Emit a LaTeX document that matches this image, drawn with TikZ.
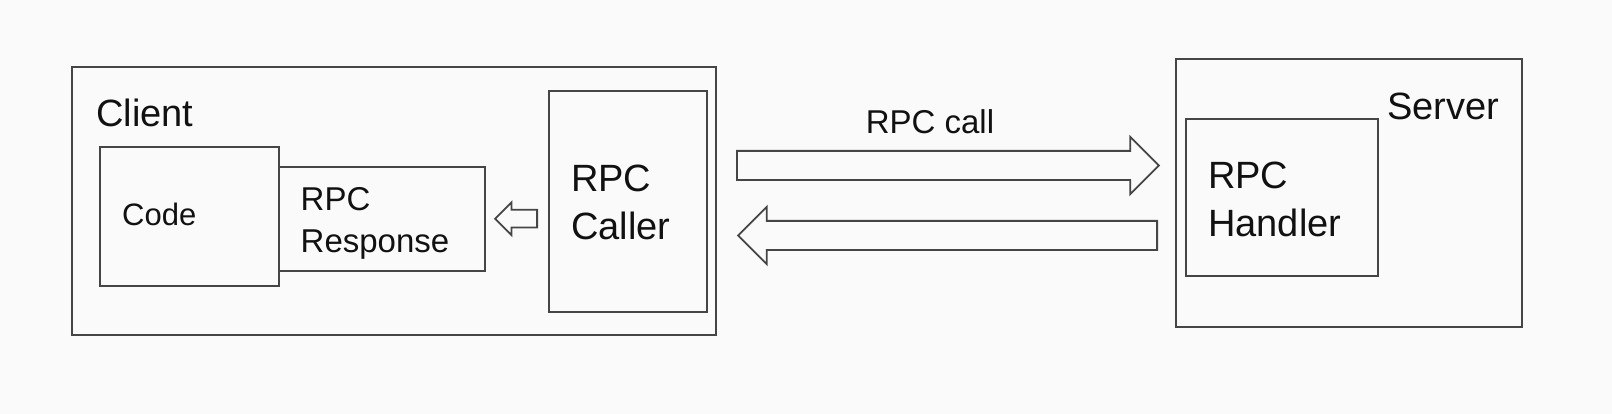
\documentclass[tikz,border=0pt]{standalone}
\usepackage{fontspec}
\setmainfont{Liberation Sans}
\usetikzlibrary{shapes.arrows}
\definecolor{bg}{HTML}{FAFAFA}
\definecolor{ln}{HTML}{454545}
\definecolor{tx}{HTML}{111111}
\tikzset{
  box/.style={draw=ln, line width=2pt, rectangle, inner sep=0pt, fill=bg},
  bigtext/.style={font=\fontsize{38}{48}\selectfont, text=tx, inner sep=0pt, align=left},
  midtext/.style={font=\fontsize{33}{42}\selectfont, text=tx, inner sep=0pt, align=left},
  smalltext/.style={font=\fontsize{31}{38}\selectfont, text=tx, inner sep=0pt},
  blockarrow/.style={single arrow, draw=ln, line width=1.8pt, fill=bg,
    single arrow tip angle=90, single arrow head indent=0pt,
    inner xsep=0pt, minimum width=0pt},
}
\begin{document}
\begin{tikzpicture}[x=1pt,y=-1pt]
\fill[bg] (0,0) rectangle (1612,414);
\useasboundingbox (0,0) rectangle (1612,414);
% Client side
\node[box, minimum width=644pt, minimum height=268pt] (client) at (394,201) {};
\node[bigtext, anchor=base west] (clientlbl) at (96,126.7) {Client};
\node[box, minimum width=178.6pt, minimum height=139.3pt] (code) at (189.3,216.3) {};
\node[smalltext, anchor=base west] (codelbl) at (122,226) {Code};
\node[box, minimum width=206.4pt, minimum height=103.7pt] (resp) at (381.8,218.8) {};
\node[midtext, anchor=base west] (resplbl) at (300.5,252.7) {RPC\\Response};
\node[box, minimum width=158.4pt, minimum height=221pt] (caller) at (627.8,201.2) {};
\node[bigtext, anchor=base west] (callerlbl) at (571,240) {RPC\\Caller};
\node[blockarrow, shape border rotate=180, inner ysep=8pt, single arrow head extend=7.5pt, minimum height=42pt, anchor=tail] (smallarrow) at (538,218.7) {};
% Server side
\node[box, minimum width=346pt, minimum height=267.4pt] (server) at (1348.7,193) {};
\node[bigtext, anchor=base west] (serverlbl) at (1387,120) {Server};
\node[box, minimum width=192.3pt, minimum height=156.4pt] (handler) at (1281.85,197.5) {};
\node[bigtext, anchor=base west] (handlerlbl) at (1208,236.7) {RPC\\Handler};
% Arrows between
\node[blockarrow, inner ysep=13.7pt, single arrow head extend=14pt, minimum height=422pt, anchor=tail] (callarrow) at (736,165.5) {};
\node[blockarrow, shape border rotate=180, inner ysep=13.7pt, single arrow head extend=14pt, minimum height=419pt, anchor=tail] (retarrow) at (1158,235.5) {};
\node[midtext, anchor=base] (calllbl) at (930,133.3) {RPC call};
\end{tikzpicture}
\end{document}
